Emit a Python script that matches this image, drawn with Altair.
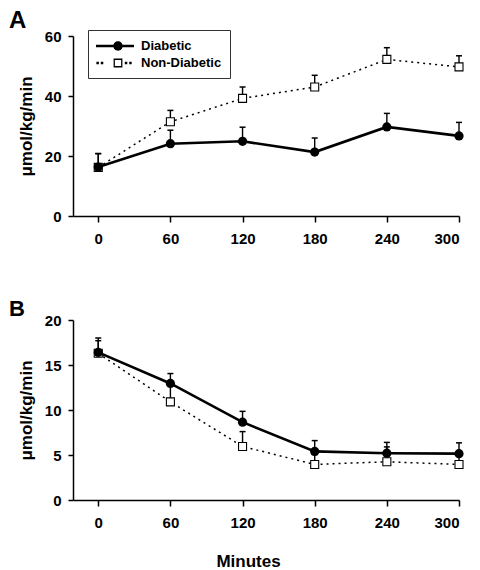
import altair as alt
import pandas as pd

minutes = [0, 60, 120, 180, 240, 300]
series_names = ["Diabetic", "Non-Diabetic"]

# Panel A
a_diab = [16.3, 24.1, 24.9, 21.3, 29.7, 26.7]
a_diab_se = [4.5, 4.5, 4.7, 4.7, 4.5, 4.5]
a_non = [16.2, 31.4, 39.2, 43.0, 52.2, 49.7]
a_non_se = [4.6, 3.8, 3.8, 3.9, 3.9, 3.7]

# Panel B
b_diab = [16.4, 12.95, 8.65, 5.4, 5.2, 5.15]
b_diab_se = [1.6, 1.1, 1.2, 1.2, 1.2, 1.2]
b_non = [16.3, 10.9, 5.95, 3.95, 4.25, 3.95]
b_non_se = [1.4, 2.0, 1.65, 1.1, 1.65, 1.1]

x_ticks = [0, 60, 120, 180, 240, 300]
y_ticks_a = [0, 20, 40, 60]
y_ticks_b = [0, 5, 10, 15, 20]

FONT = "Liberation Sans"

# legend symbols, drawn as filled shapes: line + marker
sym_diab = ("M-1,-0.16H3.75V0.16H-1Z"
            "M2.34,0A0.59,0.59,0,1,1,1.16,0A0.59,0.59,0,1,1,2.34,0Z")
sym_non = ("M-0.95,-0.15H-0.64V0.15H-0.95Z"
           "M-0.4,-0.15H-0.09V0.15H-0.4Z"
           "M2.6,-0.15H2.91V0.15H2.6Z"
           "M3.15,-0.15H3.46V0.15H3.15Z"
           "M1.2,-0.55H2.3V0.55H1.2Z"
           "M1.36,-0.39V0.39H2.14V-0.39Z")


def make_df(d, dse, n, nse):
    rows = []
    for name, vals, ses in [("Diabetic", d, dse), ("Non-Diabetic", n, nse)]:
        for m, v, s in zip(minutes, vals, ses):
            rows.append({"minute": m, "value": v, "top": v + s, "series": name})
    return pd.DataFrame(rows)


def panel(df, ymax, yticks, letter, letter_size, letter_offset, show_xtitle, with_legend):
    xaxis_kw = dict(values=x_ticks, tickSize=6, labelPadding=9, domainWidth=1.5,
                    tickWidth=1.5, labelFontSize=15)
    if show_xtitle:
        xaxis_kw.update(title="Minutes", titleFontSize=17, titlePadding=23, titleX=175)
    else:
        xaxis_kw.update(title="")
    x = alt.X("minute:Q", scale=alt.Scale(domain=[-21, 300], nice=False, zero=False),
              axis=alt.Axis(**xaxis_kw))
    y = alt.Y("value:Q", scale=alt.Scale(domain=[0, ymax], nice=False),
              axis=alt.Axis(values=yticks, title="μmol/kg/min", tickSize=5, labelPadding=7,
                            domainWidth=1.5, tickWidth=1.5, labelFontSize=15,
                            titleFontSize=17, titlePadding=9))
    base = alt.Chart(df)
    is_d = alt.datum.series == "Diabetic"
    is_n = alt.datum.series == "Non-Diabetic"

    line_n = base.transform_filter(is_n).mark_line(
        color="black", strokeWidth=1.5, strokeDash=[2, 4]).encode(x=x, y=y)
    line_d = base.transform_filter(is_d).mark_line(
        color="black", strokeWidth=2.6).encode(x=x, y=y)
    err = base.mark_rule(color="black", strokeWidth=1.4).encode(
        x=x, y=y, y2="top:Q")
    cap = base.mark_point(shape="stroke", size=36, color="black", strokeWidth=1.5,
                          opacity=1, filled=False).encode(x=x, y=alt.Y("top:Q"))
    pts_d = base.transform_filter(is_d).mark_point(
        shape="circle", filled=True, color="black", size=85, opacity=1).encode(x=x, y=y)
    pts_n = base.transform_filter(is_n).mark_point(
        shape="square", filled=True, fill="white", stroke="black", strokeWidth=1.1,
        size=64, opacity=1).encode(x=x, y=y)

    layers = [line_n, line_d, err, cap, pts_n, pts_d]
    if with_legend:
        leg = alt.Legend(
            title=None, orient="none", legendX=15, legendY=-6,
            symbolSize=256, symbolStrokeWidth=0, symbolOpacity=1,
            symbolFillColor="black", labelFont=FONT, labelFontSize=13,
            labelFontWeight="bold", labelOffset=29, padding=8, rowPadding=2,
            strokeColor="#333333", fillColor="white", labelColor="black")
        dummy = base.mark_point(opacity=0, filled=True, color="black").encode(
            x=x, y=y,
            shape=alt.Shape("series:N", scale=alt.Scale(domain=series_names,
                                                        range=[sym_diab, sym_non]),
                            legend=leg),
        )
        layers.append(dummy)
    return alt.layer(*layers).properties(
        width=386, height=180,
        title=alt.TitleParams(letter, anchor="start", frame="group", dx=-64,
                              fontSize=letter_size, font=FONT, fontWeight="bold",
                              offset=letter_offset, color="black"))


df_a = make_df(a_diab, a_diab_se, a_non, a_non_se)
df_b = make_df(b_diab, b_diab_se, b_non, b_non_se)

chart_a = panel(df_a, 60, y_ticks_a, "A", 24, -4, False, True)
chart_b = panel(df_b, 20, y_ticks_b, "B", 22, -8, True, False)

chart = alt.vconcat(chart_a, chart_b, spacing=50).properties(
    padding={"left": 0, "top": 0, "right": 0, "bottom": 0}
).configure_axis(
    grid=False, domainColor="black", tickColor="black", labelColor="black",
    titleColor="black", labelFont=FONT, titleFont=FONT, labelFontWeight="bold",
    titleFontWeight="bold"
).configure_view(stroke="transparent")

chart.save("out.html", embed_options={"renderer": "svg", "actions": False})
